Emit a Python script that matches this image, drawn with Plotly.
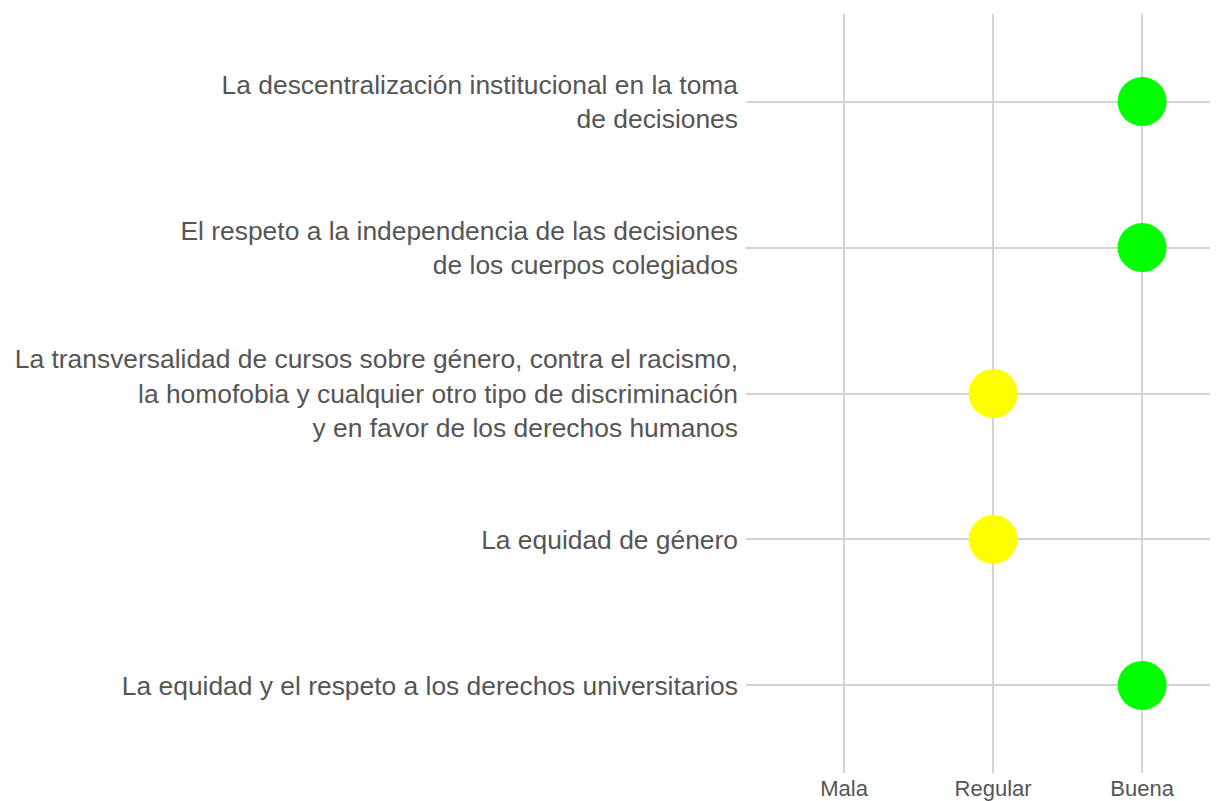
import plotly.graph_objects as go

categories = [
    "La descentralización institucional en la toma<br>de decisiones",
    "El respeto a la independencia de las decisiones<br>de los cuerpos colegiados",
    "La transversalidad de cursos sobre género, contra el racismo,<br>la homofobia y cualquier otro tipo de discriminación<br>y en favor de los derechos humanos",
    "La equidad de género",
    "La equidad y el respeto a los derechos universitarios",
]
ratings = ["Buena", "Buena", "Regular", "Regular", "Buena"]
scale = ["Mala", "Regular", "Buena"]
rating_colors = {"Mala": "#ff0000", "Regular": "#ffff00", "Buena": "#00ff00"}

fig = go.Figure()
fig.add_trace(go.Scatter(
    x=ratings,
    y=categories,
    mode="markers",
    marker=dict(size=49, color=[rating_colors[r] for r in ratings], line=dict(width=0)),
    showlegend=False,
    hoverinfo="x+y",
))

fig.update_layout(
    width=1218, height=793,
    margin=dict(l=738, r=0, t=6, b=28, autoexpand=False),
    paper_bgcolor="white", plot_bgcolor="white",
    font=dict(family="Liberation Sans, Arial, sans-serif", color="#555555"),
)
fig.update_xaxes(
    type="category", categoryorder="array", categoryarray=scale,
    range=[-0.658, 2.563],
    showgrid=True, gridcolor="#d3d3d3", gridwidth=2,
    zeroline=False, showline=False, ticks="",
    tickfont=dict(size=22, color="#555555"),
    automargin=False,
)
fig.update_yaxes(
    type="category", categoryorder="array", categoryarray=categories,
    range=[4.6, -0.6],
    showgrid=True, gridcolor="#d3d3d3", gridwidth=2,
    zeroline=False, showline=False, ticks="",
    ticklabelstandoff=7,
    tickfont=dict(size=26.4, color="#555555"),
    automargin=False,
)

fig.write_html("out.html")
